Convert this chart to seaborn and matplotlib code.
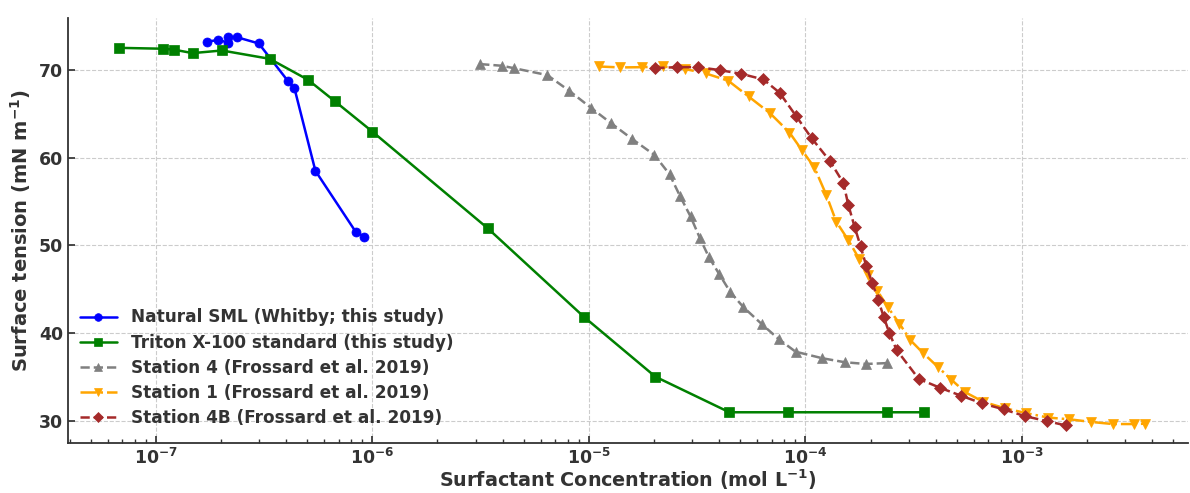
import numpy as np
import pandas as pd
import matplotlib
matplotlib.use("Agg")
import matplotlib.pyplot as plt
import seaborn as sns

# ---- data ----
sml_conc = [1.73e-7, 1.94e-7, 2.16e-7, 2.16e-7, 2.38e-7, 2.99e-7, 4.07e-7, 4.37e-7, 5.46e-7, 8.41e-7, 9.2e-7]
sml_st = [73.2, 73.4, 73.1, 73.7, 73.7, 73.0, 68.75, 67.9, 58.5, 51.5, 51.0]

triton_conc = [6.75e-8, 1.08e-7, 1.21e-7, 1.48e-7, 2.02e-7, 3.36e-7, 5.05e-7, 6.73e-7, 1.0e-6,
               3.41e-6, 9.46e-6, 2.03e-5, 4.46e-5, 8.28e-5, 2.38e-4, 3.54e-4]
triton_st = [72.5, 72.4, 72.3, 71.9, 72.2, 71.25, 68.86, 66.4, 62.97,
             51.96, 41.9, 35.05, 31.0, 31.0, 31.0, 31.0]

st4_conc = [3.15e-6, 3.97e-6, 4.50e-6, 6.43e-6, 8.09e-6, 1.02e-5, 1.27e-5, 1.59e-5, 2.01e-5, 2.36e-5,
            2.64e-5, 2.95e-5, 3.25e-5, 3.58e-5, 4.01e-5, 4.50e-5, 5.18e-5, 6.32e-5, 7.52e-5, 9.01e-5,
            1.20e-4, 1.52e-4, 1.90e-4, 2.39e-4]
st4_st = [70.65, 70.46, 70.19, 69.4, 67.64, 65.7, 63.9, 62.1, 60.3, 58.1,
          55.6, 53.3, 50.9, 48.7, 46.7, 44.7, 42.96, 41.0, 39.35, 37.9,
          37.15, 36.7, 36.5, 36.6]

st1_conc = [1.11e-5, 1.40e-5, 1.77e-5, 2.20e-5, 2.77e-5, 3.46e-5, 4.41e-5, 5.47e-5, 6.86e-5, 8.45e-5,
            9.61e-5, 1.10e-4, 1.25e-4, 1.39e-4, 1.58e-4, 1.77e-4, 1.94e-4, 2.15e-4, 2.40e-4, 2.72e-4,
            3.06e-4, 3.48e-4, 4.08e-4, 4.73e-4, 5.49e-4, 6.63e-4, 8.36e-4, 1.05e-3, 1.32e-3, 1.66e-3,
            2.09e-3, 2.63e-3, 3.31e-3, 3.70e-3]
st1_st = [70.38, 70.27, 70.3, 70.38, 70.1, 69.6, 68.75, 66.96, 65.07, 62.86,
          60.9, 58.9, 55.75, 52.7, 50.6, 48.5, 46.6, 44.85, 43.0, 41.1,
          39.2, 37.8, 36.2, 34.7, 33.27, 32.2, 31.45, 30.9, 30.4, 30.2,
          29.9, 29.66, 29.66, 29.7]

st4b_conc = [2.03e-5, 2.55e-5, 3.20e-5, 4.02e-5, 5.06e-5, 6.40e-5, 7.60e-5, 9.05e-5, 1.07e-4, 1.30e-4,
             1.50e-4, 1.58e-4, 1.69e-4, 1.80e-4, 1.91e-4, 2.04e-4, 2.17e-4, 2.30e-4, 2.44e-4, 2.64e-4,
             3.34e-4, 4.18e-4, 5.22e-4, 6.58e-4, 8.25e-4, 1.03e-3, 1.30e-3, 1.60e-3]
st4b_st = [70.2, 70.3, 70.3, 69.97, 69.54, 68.9, 67.4, 64.76, 62.2, 59.6,
           57.1, 54.6, 52.1, 49.9, 47.7, 45.7, 43.8, 41.9, 40.06, 38.1,
           34.8, 33.8, 32.9, 32.0, 31.33, 30.57, 30.0, 29.5]

series = [
    ("Natural SML (Whitby; this study)", sml_conc, sml_st, "blue", "o", "-"),
    ("Triton X-100 standard (this study)", triton_conc, triton_st, "green", "s", "-"),
    ("Station 4 (Frossard et al. 2019)", st4_conc, st4_st, "gray", "^", "--"),
    ("Station 1 (Frossard et al. 2019)", st1_conc, st1_st, "orange", "v", "-."),
    ("Station 4B (Frossard et al. 2019)", st4b_conc, st4b_st, "brown", "D", "--"),
]

sns.set_theme(style="ticks")
plt.rcParams['font.family'] = ['DejaVu Sans']
plt.rcParams['font.weight'] = 'bold'
plt.rcParams['mathtext.default'] = 'bf'
txt = "#333333"

fig = plt.figure(figsize=(11.9, 4.93), dpi=100)
ax = fig.add_axes([0.0571, 0.1014, 0.9409, 0.8621])

for name, xs, ys, col, mk, ls in series:
    df = pd.DataFrame({"x": xs, "y": ys})
    sns.lineplot(data=df, x="x", y="y", ax=ax, color=col, marker=mk, linestyle=ls,
                 linewidth=1.8, markersize=6.5, markeredgewidth=0.5, markeredgecolor=col,
                 estimator=None, sort=False, label=name)

ax.set_xscale("log")
ax.set_xlim(3.93e-8, 5.83e-3)
ax.set_ylim(27.5, 75.9)
ax.set_yticks([30, 40, 50, 60, 70])
ax.grid(True, which="major", linestyle="--", color="#cccccc", linewidth=0.8)
ax.set_axisbelow(True)
sns.despine(ax=ax)
for s in ["left", "bottom"]:
    ax.spines[s].set_color("#333333")
    ax.spines[s].set_linewidth(1.3)
ax.tick_params(axis="both", which="both", direction="in", colors=txt, labelsize=12.5)
ax.tick_params(axis="both", which="major", length=5)
ax.tick_params(axis="x", which="minor", length=3)
for lab in ax.get_xticklabels() + ax.get_yticklabels():
    lab.set_fontweight("bold")

ax.set_xlabel(r"Surfactant Concentration (mol L$^{-1}$)", fontsize=13.8, fontweight="bold",
              color=txt, labelpad=0)
ax.set_ylabel(r"Surface tension (mN m$^{-1}$)", fontsize=14, fontweight="bold", color=txt)

leg = ax.legend(loc="lower left", frameon=False, fontsize=12.2, handlelength=2.2,
                borderaxespad=0.3, labelspacing=0.42, markerscale=0.85,
                bbox_to_anchor=(0.0, 0.01))
for t in leg.get_texts():
    t.set_color(txt)
    t.set_fontweight("bold")

fig.savefig("out.png", dpi=100)
